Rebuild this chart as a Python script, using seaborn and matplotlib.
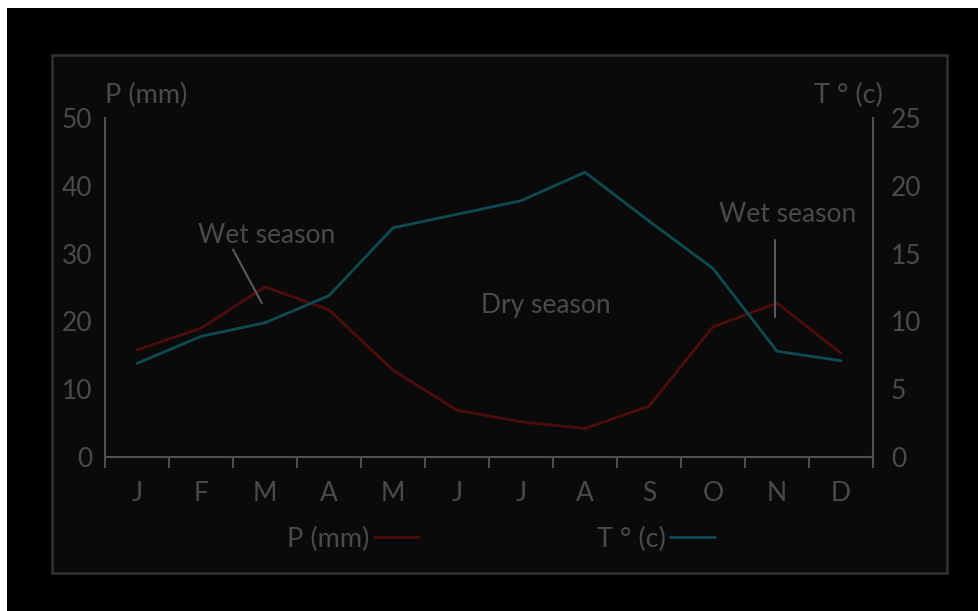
import numpy as np
import pandas as pd
import matplotlib
matplotlib.use('Agg')
import matplotlib.pyplot as plt
from matplotlib.patches import Rectangle
import seaborn as sns

# 数据
MONTHS = ['J', 'F', 'M', 'A', 'M', 'J', 'J', 'A', 'S', 'O', 'N', 'D']
PRECIP = [15.8, 19.0, 25.1, 21.7, 12.8, 6.9, 5.2, 4.2, 7.5, 19.2, 22.7, 15.3]
TEMP = [6.9, 8.9, 9.9, 11.9, 16.9, 17.9, 18.9, 21.0, 17.4, 13.9, 7.8, 7.1]
P_TICKS = [0, 10, 20, 30, 40, 50]
T_TICKS = [0, 5, 10, 15, 20, 25]

RED = '#4f0c0c'
TEAL = '#0e4b50'
TXT = '#4a4a4a'
AXC = '#505050'

sns.set_theme(style='white')
plt.rcParams['font.family'] = ['Lato', 'DejaVu Sans']

df = pd.DataFrame({'pos': np.arange(len(MONTHS)) + 0.5,
                   'P (mm)': PRECIP, 'T ° (c)': TEMP})

W, H = 979, 611
fig = plt.figure(figsize=(W / 100, H / 100), dpi=100, facecolor='black')

# 白边 + 内框
fig.patches.append(Rectangle((0, 1 - 8 / H), 1, 8 / H, transform=fig.transFigure,
                             facecolor='white', edgecolor='none', zorder=-10))
fig.patches.append(Rectangle((0, 0), 7 / W, 1, transform=fig.transFigure,
                             facecolor='white', edgecolor='none', zorder=-10))
fig.patches.append(Rectangle((52 / W, (H - 573) / H), (947 - 52) / W, (573 - 55) / H,
                             transform=fig.transFigure, facecolor='#0a0a0a',
                             edgecolor='#2f2f2f', linewidth=2, zorder=-10))

ax = fig.add_axes([105 / W, (H - 457) / H, 768 / W, 339 / H])
ax.set_facecolor('none')
ax2 = ax.twinx()
ax2.set_facecolor('none')

sns.lineplot(data=df, x='pos', y='P (mm)', ax=ax, color=RED, linewidth=2, label='P (mm)', legend=False)
sns.lineplot(data=df, x='pos', y='T ° (c)', ax=ax2, color=TEAL, linewidth=2, label='T ° (c)', legend=False)

ax.set_xlim(0, 12)
ax.set_ylim(0, 50)
ax2.set_ylim(0, 25)
ax.set_yticks(P_TICKS)
ax2.set_yticks(T_TICKS)
ax.set_xticks(np.arange(13))
ax.set_xticklabels([])
ax.set_xticks(df['pos'], minor=True)
ax.set_xticklabels(MONTHS, minor=True)
ax.set_xlabel('')
ax.set_ylabel('')
ax2.set_ylabel('')

ax.tick_params(axis='x', which='major', length=8, width=1.5, color=AXC, direction='out', bottom=True)
ax.tick_params(axis='x', which='minor', length=0, pad=17, labelsize=19, labelcolor=TXT)
ax.tick_params(axis='y', length=0, pad=9, labelsize=19, labelcolor=TXT)
ax2.tick_params(axis='y', length=0, pad=13, labelsize=19, labelcolor=TXT)

for a in (ax, ax2):
    for s in a.spines.values():
        s.set_visible(False)
        s.set_color(AXC)
        s.set_linewidth(1.5)
ax.spines['left'].set_visible(True)
ax.spines['bottom'].set_visible(True)
ax2.spines['right'].set_visible(True)

# 轴标题
ax.text(0, 1.03, 'P (mm)', transform=ax.transAxes, ha='left', va='bottom', fontsize=19.5, color=TXT)
ax2.text(1.013, 1.03, 'T ° (c)', transform=ax2.transAxes, ha='right', va='bottom', fontsize=19.5, color=TXT)

# 注释
ax.text(2.52, 32.6, 'Wet season', ha='center', va='center', fontsize=19, color=TXT)
ax.plot([2.0, 2.45], [30.6, 22.7], color='#5a5a5a', lw=1.5)
ax.text(10.66, 35.7, 'Wet season', ha='center', va='center', fontsize=19, color=TXT)
ax.plot([10.47, 10.47], [20.6, 32.0], color='#5a5a5a', lw=1.5)
ax.text(6.88, 22.3, 'Dry season', ha='center', va='center', fontsize=19, color=TXT)

# 图例
handles = ax.get_lines()[:1] + ax2.get_lines()[:1]
leg = fig.legend(handles, [h.get_label() for h in handles], loc='center',
                 bbox_to_anchor=(501 / W, (H - 539) / H), ncol=2, frameon=False,
                 markerfirst=False, handlelength=1.65, handletextpad=0.15,
                 columnspacing=6.6, fontsize=19.5, labelcolor=TXT)

fig.savefig('out.png', dpi=100, facecolor='black')
